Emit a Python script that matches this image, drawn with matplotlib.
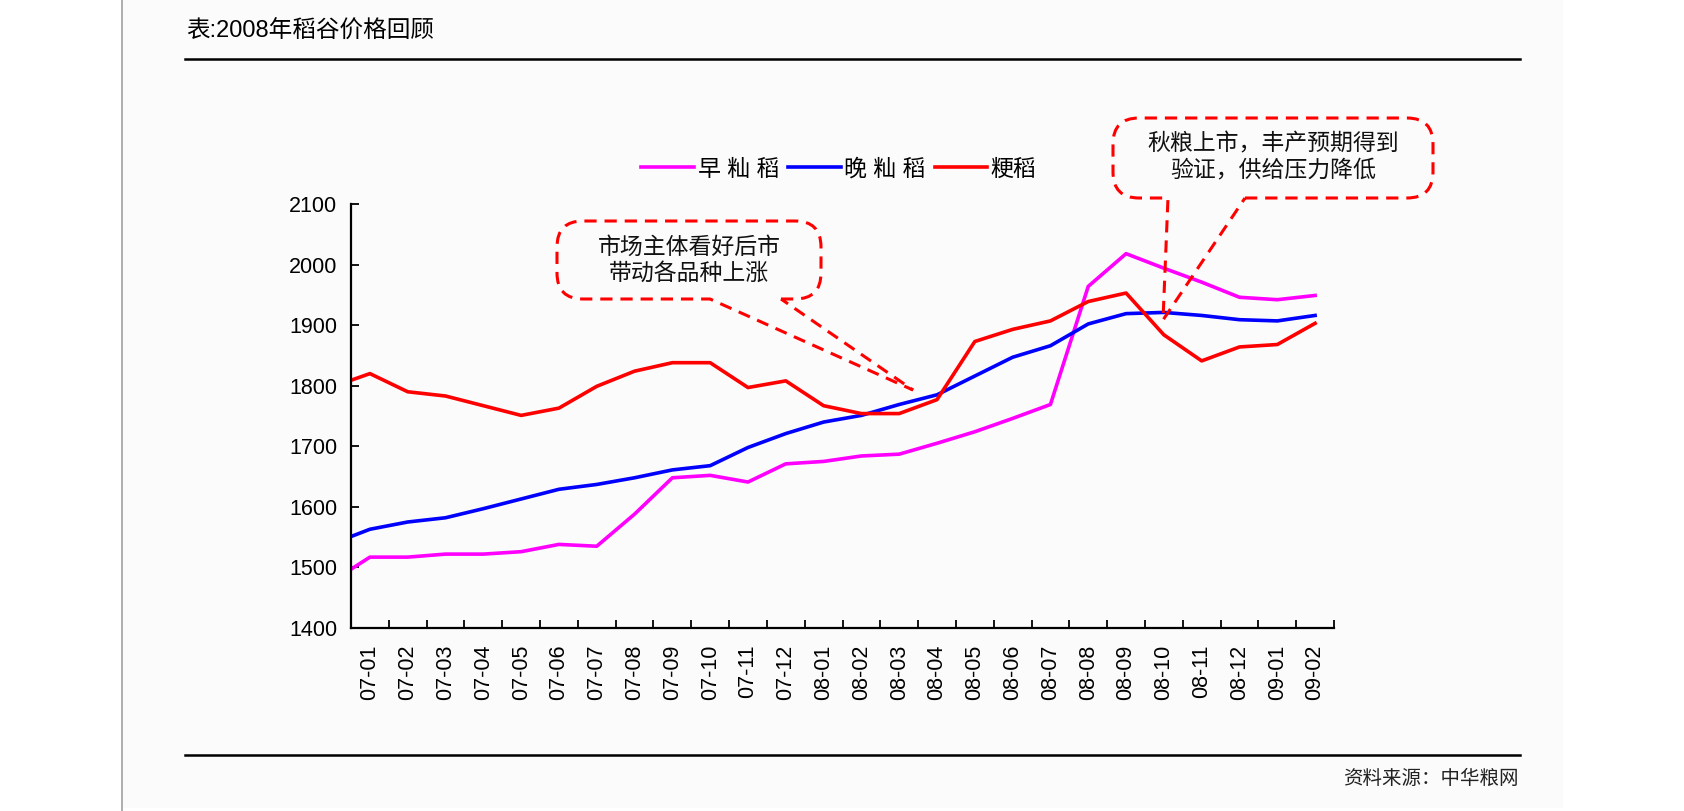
#2008年稻谷价格回顾

import numpy as np
import matplotlib
matplotlib.use('Agg')
import matplotlib.pyplot as plt
from matplotlib.path import Path
from matplotlib.patches import PathPatch, Rectangle
from matplotlib.lines import Line2D

plt.rcParams['font.family'] = ['Liberation Sans', 'Noto Sans CJK SC', 'DejaVu Sans']

# 月份ラベル
months = ['07-01', '07-02', '07-03', '07-04', '07-05', '07-06', '07-07', '07-08',
          '07-09', '07-10', '07-11', '07-12', '08-01', '08-02', '08-03', '08-04',
          '08-05', '08-06', '08-07', '08-08', '08-09', '08-10', '08-11', '08-12',
          '09-01', '09-02']

# 軸の左端の値 + 各月の値
early_indica = [1497, 1517, 1517, 1522, 1522, 1526, 1538, 1535, 1588, 1648, 1652, 1641,
                1671, 1675, 1684, 1687, 1705, 1724, 1746, 1769, 1964, 2018, 1994, 1971,
                1946, 1942, 1949]
late_indica = [1551, 1563, 1575, 1582, 1597, 1613, 1629, 1637, 1648, 1661, 1668, 1698,
               1721, 1740, 1751, 1769, 1785, 1816, 1847, 1866, 1902, 1919, 1921, 1916,
               1909, 1907, 1916]
japonica = [1809, 1820, 1790, 1783, 1767, 1751, 1763, 1799, 1824, 1838, 1838, 1797,
            1808, 1767, 1754, 1754, 1777, 1873, 1893, 1907, 1939, 1953, 1884, 1841,
            1864, 1868, 1903]

W, H = 1684, 811


def fx(x):
    return x / W


def fy(y):
    return 1 - y / H


fig = plt.figure(figsize=(W / 100, H / 100), dpi=100)
fig.patch.set_facecolor('white')

# 背景とページ線
fig.add_artist(Rectangle((fx(123), fy(808)), fx(1563) - fx(123), fy(0) - fy(808),
                         transform=fig.transFigure, facecolor='#fbfbfb', edgecolor='none', zorder=0))
fig.add_artist(Line2D([fx(122), fx(122)], [0, 1], color='#a0a0a0', lw=1.2))

# タイトル
fig.text(fx(186), fy(32), '表:2008年稻谷价格回顾', fontsize=17, va='center', ha='left')
fig.add_artist(Line2D([fx(185), fx(1520)], [fy(59), fy(59)], color='black', lw=1.8))
fig.add_artist(Line2D([fx(185), fx(1520)], [fy(755), fy(755)], color='black', lw=1.8))
fig.text(fx(1519), fy(779), '资料来源：中华粮网', fontsize=14, va='center', ha='right', color='#222222')

# グラフ本体
ax = fig.add_axes([fx(351), fy(628), fx(1334) - fx(351), fy(204) - fy(628)])
ax.set_facecolor('none')

# 最初の点は軸上（前月からの線の切れ端）
x = np.concatenate([[-0.5], np.arange(len(months))])
l1, = ax.plot(x, early_indica, color='#ff00ff', lw=2.6, label='早 籼 稻')
l2, = ax.plot(x, late_indica, color='#0000ff', lw=2.6, label='晚 籼 稻')
l3, = ax.plot(x, japonica, color='#ff0000', lw=2.6, label='粳稻')

ax.set_xlim(-0.5, len(months) - 0.5)
ax.set_ylim(1400, 2100)
ax.set_yticks(np.arange(1400, 2101, 100))
ax.set_xticks(np.arange(-0.5, len(months)))
ax.set_xticklabels([])
ax.set_xticks(np.arange(len(months)), minor=True)
ax.set_xticklabels(months, minor=True, rotation=90)
ax.tick_params(axis='x', which='minor', length=0, pad=12, labelsize=15.5)
ax.tick_params(axis='x', which='major', direction='in', length=6, width=1.3)
ax.tick_params(axis='y', direction='in', length=6, width=1.3, labelsize=15.5, pad=10)

for s in ['top', 'right']:
    ax.spines[s].set_visible(False)
for s in ['left', 'bottom']:
    ax.spines[s].set_linewidth(1.6)

fig.legend(handles=[l1, l2, l3], loc='center', bbox_to_anchor=(fx(839), fy(169)),
           ncol=3, frameon=False, fontsize=16.5, handlelength=2.3, handletextpad=0.15,
           columnspacing=0.4)


# 吹き出し
def callout(x0, y0, x1, y1, base_l, base_r, tip, r=26):
    pts = [
        (base_r, y1), (x1 - r, y1), (x1, y1), (x1, y1 - r),
        (x1, y0 + r), (x1, y0), (x1 - r, y0),
        (x0 + r, y0), (x0, y0), (x0, y0 + r),
        (x0, y1 - r), (x0, y1), (x0 + r, y1),
        (base_l, y1), tip, (base_r, y1),
    ]
    codes = [Path.MOVETO, Path.LINETO, Path.CURVE3, Path.CURVE3,
             Path.LINETO, Path.CURVE3, Path.CURVE3,
             Path.LINETO, Path.CURVE3, Path.CURVE3,
             Path.LINETO, Path.CURVE3, Path.CURVE3,
             Path.LINETO, Path.LINETO, Path.LINETO]
    verts = [(fx(a), fy(b)) for a, b in pts]
    patch = PathPatch(Path(verts, codes), transform=fig.transFigure, fill=False,
                      edgecolor='#ff0000', lw=2.2, linestyle=(0, (4, 2.6)), zorder=5)
    fig.add_artist(patch)


callout(557, 221, 821, 299, 710, 781, (913, 390))
fig.text(fx(689), fy(260), '市场主体看好后市\n带动各品种上涨', fontsize=16.5,
         ha='center', va='center', linespacing=1.15, color='#111111')

callout(1113, 118, 1433, 198, 1168, 1245, (1163, 320))
fig.text(fx(1273), fy(157), '秋粮上市，丰产预期得到\n验证，供给压力降低', fontsize=16.5,
         ha='center', va='center', linespacing=1.15, color='#111111')

plt.savefig('out.png', dpi=100)
